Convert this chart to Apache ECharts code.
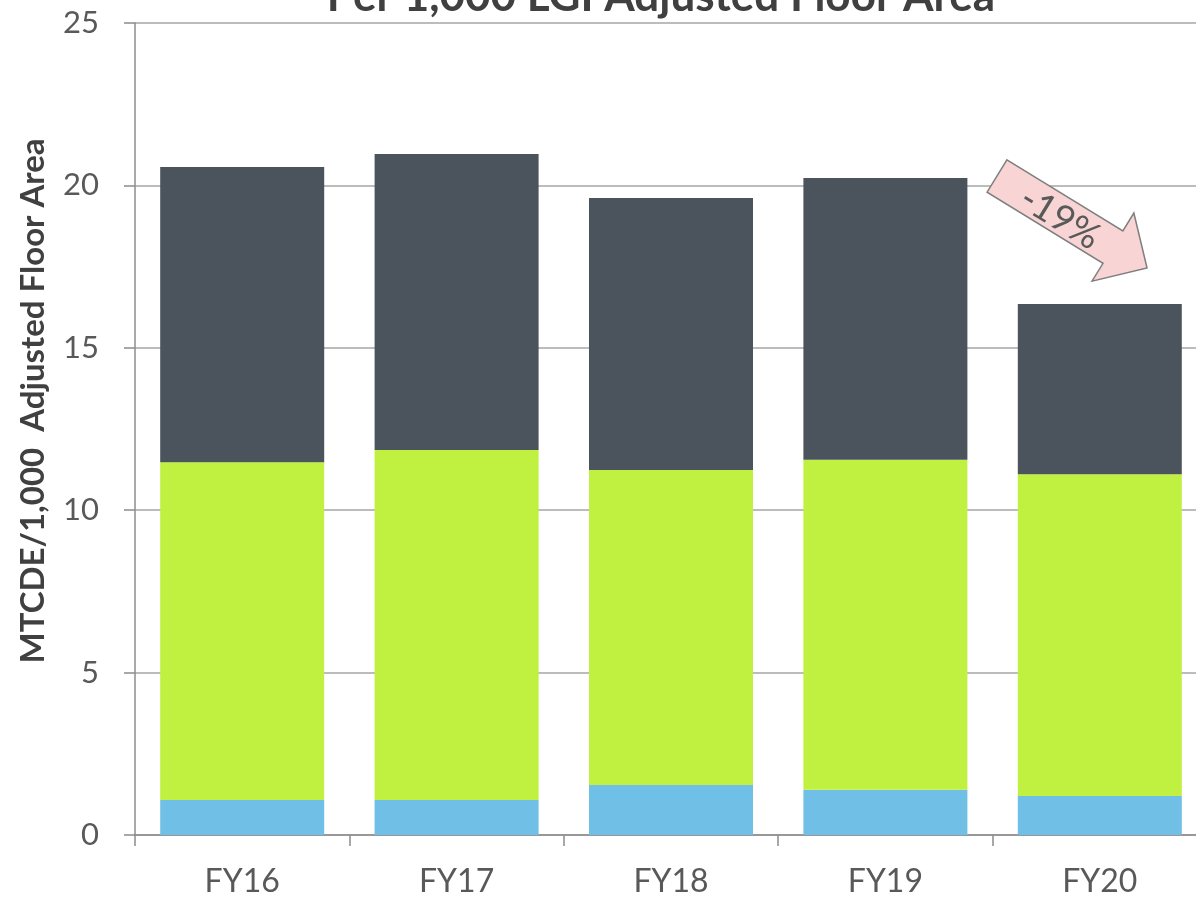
<!DOCTYPE html>
<html>
<head>
<meta charset="utf-8">
<script src="https://cdn.jsdelivr.net/npm/echarts@6/dist/echarts.min.js"></script>
<style>
  html, body { margin: 0; padding: 0; background: #fff; }
  #chart { width: 1196px; height: 901px; }
</style>
</head>
<body>
<div id="chart"></div>
<script>
// data
var years = ['FY16', 'FY17', 'FY18', 'FY19', 'FY20']
var blueVals = [1.08, 1.08, 1.54, 1.39, 1.2]
var greenVals = [10.4, 10.77, 9.7, 10.16, 9.91]
var darkVals = [9.09, 9.12, 8.37, 8.68, 5.24]
var yTicks = [0, 5, 10, 15, 20, 25]

var font = 'Lato'
var chart = echarts.init(document.getElementById('chart'))

var option = {
  animation: false,
  // plot area runs past the right edge of the picture, like the original
  grid: { left: 135, width: 1072, top: 23, bottom: 66, outerBoundsMode: 'none', containLabel: false },
  xAxis: {
    type: 'category',
    data: years,
    axisLine: { lineStyle: { color: '#8c8c8c', width: 1.5 } },
    axisTick: { show: true, length: 11, lineStyle: { color: '#8c8c8c', width: 1.5 } },
    axisLabel: { color: '#595959', fontSize: 32, fontFamily: font, margin: 31 }
  },
  yAxis: {
    type: 'value',
    min: yTicks[0],
    max: yTicks[yTicks.length - 1],
    interval: 5,
    axisLine: { show: true, lineStyle: { color: '#8c8c8c', width: 1.5 } },
    axisTick: { show: true, length: 11, lineStyle: { color: '#8c8c8c', width: 1.5 } },
    axisLabel: { color: '#595959', fontSize: 31, fontFamily: font, margin: 36 },
    splitLine: { lineStyle: { color: '#a6a6a6', width: 1.5 } }
  },
  series: [
    { type: 'bar', stack: 'a', data: blueVals, barWidth: 164, itemStyle: { color: '#6fbfe6' } },
    { type: 'bar', stack: 'a', data: greenVals, barWidth: 164, itemStyle: { color: '#c0f040' } },
    { type: 'bar', stack: 'a', data: darkVals, barWidth: 164, itemStyle: { color: '#4b535c' } }
  ],
  graphic: [
    {
      type: 'text',
      x: 661, y: 19,
      style: {
        text: 'Per 1,000 LGI Adjusted Floor Area',
        font: 'bold 44px ' + font,
        fill: '#404040',
        align: 'center',
        verticalAlign: 'bottom'
      },
      z: 10
    },
    {
      type: 'text',
      x: 33, y: 401,
      rotation: Math.PI / 2,
      style: {
        text: 'MTCDE/1,000  Adjusted Floor Area',
        font: 'bold 33px ' + font,
        fill: '#404040',
        align: 'center',
        verticalAlign: 'middle'
      }
    },
    {
      type: 'polygon',
      x: 997, y: 176,
      rotation: -0.55,
      shape: {
        points: [[0, -19], [136, -19], [136, -40], [176, 0], [136, 40], [136, 19], [0, 19]]
      },
      style: { fill: '#f9d4d4', stroke: '#7f7f7f', lineWidth: 1.5 },
      z: 20
    },
    {
      type: 'text',
      x: 1060, y: 218,
      rotation: -0.55,
      style: {
        text: '-19%',
        font: '37px ' + font,
        fill: '#595959',
        align: 'center',
        verticalAlign: 'middle'
      },
      z: 21
    }
  ]
}

chart.setOption(option)
</script>
</body>
</html>
